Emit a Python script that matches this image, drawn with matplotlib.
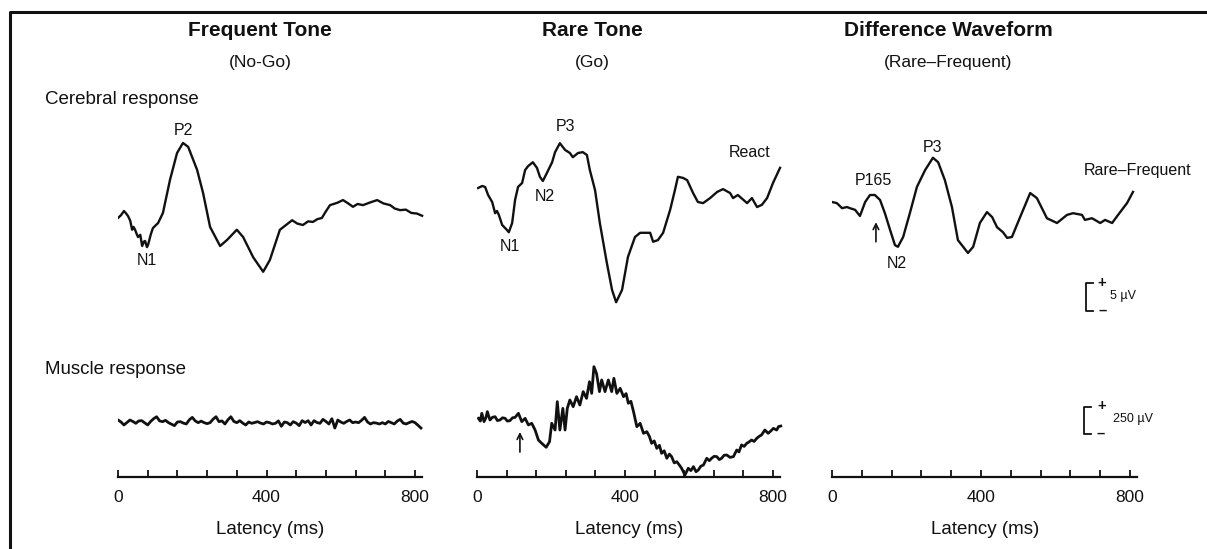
import matplotlib
matplotlib.use("Agg")
import matplotlib.pyplot as plt
from matplotlib.lines import Line2D
from matplotlib.ticker import FixedLocator

plt.rcParams['font.family'] = ['Liberation Sans', 'DejaVu Sans']

W, H = 1207, 549
INK = '#111111'

titles = ["Frequent Tone", "Rare Tone", "Difference Waveform"]
subtitles = ["(No-Go)", "(Go)", "(Rare\u2013Frequent)"]
tick_labels = ["0", "400", "800"]
tick_ms = [0, 400, 800]
minor_ms = [80, 160, 240, 320, 480, 560, 640, 720]

# cerebral response, frequent tone (ms, uV)
freq_eeg_t = [0, 8, 16, 22, 27, 33, 38, 42, 46, 50, 54, 60, 65, 70, 73, 78, 81, 88, 94,
              100, 108, 121, 140, 159, 175, 189, 213, 229, 248, 275, 294, 320, 337,
              364, 391, 409, 436, 469, 483, 498, 512, 525, 537, 549, 560, 571, 590,
              606, 620, 633, 645, 660, 680, 698, 715, 733, 745, 760, 775, 790, 805, 819]
freq_eeg_v = [0, 0.5, 1.25, 0.8, 0.35, -0.5, -2.1, -1.6, -2.1, -2.8, -3.4, -3.0, -5.0,
              -4.2, -4.1, -5.2, -4.8, -3.0, -1.8, -1.4, -0.9, 0.9, 6.8, 11.6, 13.4,
              12.7, 8.6, 4.5, -1.6, -5.0, -3.9, -2.1, -3.4, -7.0, -9.6, -7.5, -2.1,
              -0.4, -1.0, -1.25, -0.6, -0.7, -0.2, 0, 1.2, 2.3, 2.7, 3.2, 2.6, 2.0,
              2.5, 2.3, 2.8, 3.2, 2.6, 2.3, 1.7, 1.4, 1.5, 0.9, 0.8, 0.4]

# cerebral response, rare tone
rare_eeg_t = [3, 14, 22, 30, 41, 49, 54, 59, 68, 81, 86, 95, 103, 111, 122, 130, 138,
              151, 162, 170, 178, 189, 203, 211, 224, 238, 251, 259, 273, 286, 297,
              305, 319, 332, 351, 365, 376, 392, 408, 427, 441, 454, 468, 476, 489,
              503, 522, 535, 543, 557, 568, 584, 597, 611, 630, 649, 665, 684, 692,
              705, 730, 743, 757, 770, 784, 800, 819]
rare_eeg_v = [0, 0.36, 0.18, -1.25, -2.5, -4.5, -4.1, -4.8, -6.6, -7.5, -7.9, -6.25,
              -2.1, 0.2, 0.9, 3.2, 3.9, 4.6, 3.6, 2.0, 1.25, 2.7, 4.6, 6.4, 8.0, 6.8,
              6.25, 5.5, 6.25, 6.4, 5.9, 3.2, -0.36, -6.25, -13.4, -18.2, -20.4,
              -18.2, -12.3, -8.75, -8.0, -8.0, -8.0, -9.6, -9.3, -8.0, -3.9, -0.36,
              2.0, 1.8, 1.4, -0.9, -2.5, -2.7, -1.8, -0.7, -0.2, -0.9, -1.8, -1.25,
              -2.7, -1.8, -3.4, -3.0, -1.8, 0.9, 3.6]

# cerebral difference waveform (rare - frequent)
diff_eeg_t = [0, 13, 27, 40, 48, 62, 75, 89, 102, 115, 129, 142, 156, 169, 177, 191,
              209, 228, 250, 271, 285, 303, 322, 338, 365, 379, 397, 416, 430, 443,
              459, 470, 483, 505, 532, 550, 577, 604, 631, 647, 671, 679, 698, 720,
              733, 752, 768, 792, 808]
diff_eeg_v = [0, -0.2, -1.1, -0.9, -1.1, -1.4, -2.5, 0, 1.25, 1.25, 0.36, -2.0, -5.0,
              -7.7, -8.0, -6.25, -2.0, 2.7, 5.7, 7.9, 7.1, 3.9, -0.9, -6.8, -9.1,
              -8.0, -3.75, -1.8, -2.7, -4.5, -5.4, -6.4, -6.25, -2.7, 1.6, 0.7, -2.9,
              -3.75, -2.3, -2.0, -2.3, -3.2, -2.9, -3.75, -3.2, -3.75, -2.3, -0.2, 1.8]

# muscle response, frequent tone (every 8 ms)
freq_emg_v = [18, 0, -27, -5, 18, 5, -12, 10, 12, -8, -27, 5, 30, 48, 10, 3, 15, -6,
              -20, -33, 0, 3, -10, -18, 20, 42, 10, -6, 8, -6, -15, -6, 25, 48, 3, 10,
              -18, 20, 48, 5, -6, 12, -10, -27, 0, -12, -5, 3, -10, -18, 0, -6, -18,
              -12, 10, -39, 0, -6, -27, 3, -10, -33, 12, -5, 12, -27, 12, -5, -12, 24,
              5, -18, 30, -55, 18, 0, -12, 5, 18, -6, 0, -6, 15, 42, 0, -18, -6, -10,
              -18, -6, -18, 5, -6, -18, 8, 24, -10, -18, -6, 5, -6, -30, -55]
freq_emg_t = [8 * k for k in range(len(freq_emg_v))]

# muscle response, rare tone
rare_emg_t = [4, 9, 13, 19, 24, 28, 35, 42, 49, 55, 62, 69, 76, 82, 89, 96, 103, 112,
              121, 130, 139, 148, 157, 166, 175, 187, 196, 202, 211, 217, 224, 232,
              238, 244, 251, 260, 269, 278, 287, 296, 304, 310, 316, 323, 331, 337,
              346, 355, 364, 370, 378, 387, 396, 403, 409, 416, 423, 432, 441, 450,
              459, 466, 472, 479, 486, 493, 499, 506, 513, 520, 526, 533, 540, 547,
              553, 562, 571, 578, 585, 592, 598, 605, 612, 621, 628, 634, 641, 648,
              655, 661, 668, 675, 684, 693, 702, 708, 715, 722, 729, 735, 742, 749,
              756, 762, 769, 778, 787, 794, 801, 810, 815, 821]
rare_emg_v = [15, -10, 61, -15, 20, 76, 0, 25, 30, -5, 0, 20, 15, -10, -6, 20, 24, 61,
              -15, 15, -45, -30, -91, -182, -212, -248, -197, -30, -91, 167, -91, 106,
              -91, 106, 182, 121, 212, 136, 258, 197, 348, 242, 485, 424, 258, 364,
              258, 364, 258, 379, 242, 288, 212, 240, 152, 170, 76, -61, -30, -121,
              -106, -150, -212, -190, -258, -230, -303, -280, -348, -310, -333, -390,
              -379, -410, -439, -500, -439, -460, -424, -470, -455, -420, -409, -348,
              -370, -348, -330, -333, -360, -348, -320, -318, -340, -333, -273, -290,
              -227, -240, -212, -200, -182, -195, -167, -150, -136, -91, -121, -100,
              -76, -91, -60, -55]

eeg_t = [freq_eeg_t, rare_eeg_t, diff_eeg_t]
eeg_v = [freq_eeg_v, rare_eeg_v, diff_eeg_v]
emg_t = [freq_emg_t, rare_emg_t, None]
emg_v = [freq_emg_v, rare_emg_v, None]

# peak labels: (text, ms, uV)
peak_labels = [
    [("P2", 175, 15.7), ("N1", 78, -7.5)],
    [("P3", 238, 10.9), ("N2", 184, -1.6), ("N1", 89, -10.5), ("React", 738, 6.4)],
    [("P165", 110, 3.9), ("P3", 271, 9.8), ("N2", 175, -10.9),
     ("Rare\u2013Frequent", 819, 5.7)],
]

# column layout in pixels: zero-ms x, px per ms, eeg baseline y, emg baseline y
cols = [(118, 0.3713, 218, 422), (477, 0.370, 188, 420), (832, 0.3725, 202, 421)]
title_x = [260, 592, 948]
EEG_PX = 5.6     # px per uV
EMG_PX = 0.11    # px per uV
AXIS_Y = 477


def px_axes(fig, x0, x1, y_top, y_bot):
    ax = fig.add_axes([x0 / W, 1 - y_bot / H, (x1 - x0) / W, (y_bot - y_top) / H])
    ax.set_axis_off()
    return ax


fig = plt.figure(figsize=(W / 100, H / 100), dpi=100)
fig.patch.set_facecolor('white')

for i, (x0, ppm, eeg_base, emg_base) in enumerate(cols):
    x1 = x0 + 830 * ppm

    fig.text(title_x[i] / W, 1 - 30 / H, titles[i], ha='center', va='center',
             fontsize=15, fontweight='bold', color=INK)
    fig.text(title_x[i] / W, 1 - 63 / H, subtitles[i], ha='center', va='center',
             fontsize=12.5, color=INK)

    # cerebral
    ax = px_axes(fig, x0, x1, 110, 330)
    ax.set_xlim(0, 830)
    ax.set_ylim((eeg_base - 330) / EEG_PX, (eeg_base - 110) / EEG_PX)
    ax.plot(eeg_t[i], eeg_v[i], color=INK, lw=1.7, solid_joinstyle='round')
    for txt, tx, ty in peak_labels[i]:
        ax.text(tx, ty, txt, ha='center', va='center', fontsize=11.5, color=INK)

    # muscle
    mx = px_axes(fig, x0, x1, 350, AXIS_Y)
    mx.set_xlim(0, 830)
    mx.set_ylim((emg_base - AXIS_Y) / EMG_PX, (emg_base - 350) / EMG_PX)
    if emg_t[i] is not None:
        mx.plot(emg_t[i], emg_v[i], color=INK, lw=2.0, solid_joinstyle='round')

    # latency axis
    tx = px_axes(fig, x0, x0 + 820 * ppm, AXIS_Y - 20, AXIS_Y)
    tx.set_axis_on()
    tx.set_xlim(0, 820)
    tx.set_ylim(0, 1)
    for side in ['top', 'left', 'right']:
        tx.spines[side].set_visible(False)
    tx.spines['bottom'].set_linewidth(1.6)
    tx.spines['bottom'].set_color(INK)
    tx.set_yticks([])
    tx.set_xticks(tick_ms)
    tx.set_xticklabels(tick_labels)
    tx.xaxis.set_minor_locator(FixedLocator(minor_ms))
    tx.tick_params(axis='x', which='both', direction='in', length=5, width=1.3,
                   color=INK, labelsize=12.5, pad=9, labelcolor=INK)
    tx.set_xlabel("Latency (ms)", fontsize=13.5, labelpad=12, color=INK)
    tx.patch.set_alpha(0)

    if i == 1:
        mx.annotate('', xy=(116, -109), xytext=(116, -291),
                    arrowprops=dict(arrowstyle='->', color=INK, lw=1.2,
                                    shrinkA=0, shrinkB=0))
    if i == 2:
        ax.annotate('', xy=(118, -3.6), xytext=(118, -7.1),
                    arrowprops=dict(arrowstyle='->', color=INK, lw=1.2,
                                    shrinkA=0, shrinkB=0))
        # 5 uV calibration bracket
        ax.plot([700, 682, 682, 700], [-14.5, -14.5, -19.5, -19.5], color=INK, lw=1.3)
        ax.text(725, -14.4, '+', ha='center', va='center', fontsize=10.5,
                fontweight='bold', color=INK)
        ax.text(727, -19.5, '\u2013', ha='center', va='center', fontsize=10.5,
                fontweight='bold', color=INK)
        ax.text(746, -16.8, '5 \u00b5V', ha='left', va='center', fontsize=9, color=INK)
        # 250 uV calibration bracket
        mx.plot([695, 676, 676, 695], [127, 127, -118, -118], color=INK, lw=1.3)
        mx.text(725, 135, '+', ha='center', va='center', fontsize=10.5,
                fontweight='bold', color=INK)
        mx.text(722, -118, '\u2013', ha='center', va='center', fontsize=10.5,
                fontweight='bold', color=INK)
        mx.text(754, 18, '250 \u00b5V', ha='left', va='center', fontsize=9, color=INK)

fig.text(45 / W, 1 - 100 / H, "Cerebral response", ha='left', va='center',
         fontsize=13.5, color=INK)
fig.text(45 / W, 1 - 369 / H, "Muscle response", ha='left', va='center',
         fontsize=13.5, color=INK)

# frame (left and top edges only, as in the scan)
fig.add_artist(Line2D([10 / W, 10 / W, 1.0], [0, 1 - 12 / H, 1 - 12 / H],
                      transform=fig.transFigure, color=INK, lw=2.2))

fig.savefig('out.png', dpi=100, facecolor='white')
